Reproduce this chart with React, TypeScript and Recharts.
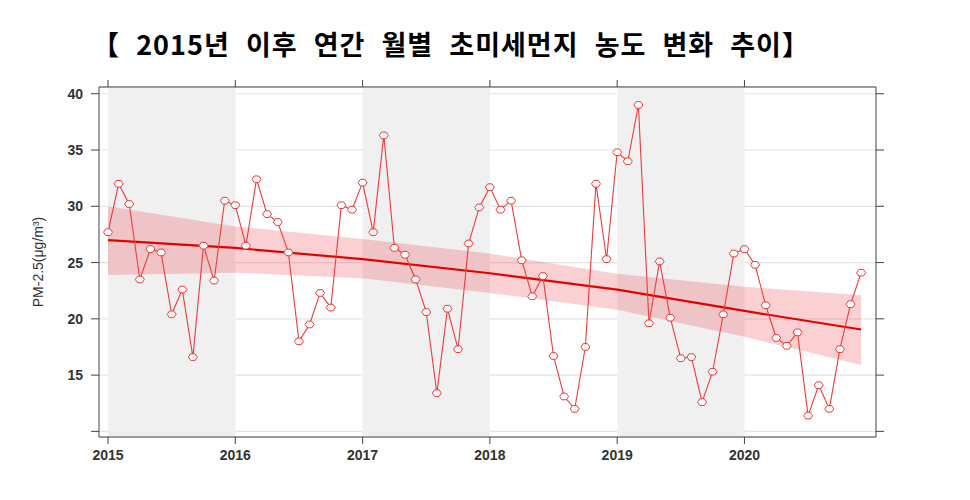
import { ComposedChart, Line, Area, XAxis, YAxis, CartesianGrid, ReferenceArea } from "recharts";

// monthly PM-2.5 means, Jan 2015 .. Dec 2020
const pm2015 = [27.7, 32.0, 30.2, 23.5, 26.2, 25.9, 20.4, 22.6, 16.6, 26.5, 23.4, 30.5];
const pm2016 = [30.1, 26.5, 32.4, 29.3, 28.6, 25.9, 18.0, 19.5, 22.3, 21.0, 30.1, 29.7];
const pm2017 = [32.1, 27.7, 36.3, 26.3, 25.7, 23.5, 20.6, 13.4, 20.9, 17.3, 26.7, 29.9];
const pm2018 = [31.7, 29.7, 30.5, 25.2, 22.0, 23.8, 16.7, 13.1, 12.0, 17.5, 32.0, 25.3];
const pm2019 = [34.8, 34.0, 39.0, 19.6, 25.1, 20.1, 16.5, 16.6, 12.6, 15.3, 20.4, 25.8];
const pm2020 = [26.2, 24.8, 21.2, 18.3, 17.6, 18.8, 11.4, 14.1, 12.0, 17.3, 21.3, 24.1];
const monthly = [...pm2015, ...pm2016, ...pm2017, ...pm2018, ...pm2019, ...pm2020];

// smooth trend with its uncertainty band, read at yearly knots (month index)
const trendMonths = [0, 12, 24, 36, 48, 60, 71];
const trendMid = [27.0, 26.3, 25.3, 24.05, 22.6, 20.7, 19.05];
const trendLow = [23.9, 24.1, 23.6, 22.3, 20.8, 18.4, 15.9];
const trendHigh = [30.0, 28.2, 27.1, 25.8, 24.0, 22.85, 22.1];

const yearTicks = [0, 12, 24, 36, 48, 60];
const yTicks = [10, 15, 20, 25, 30, 35, 40];
const shadedYears = [0, 24, 48];

const data = monthly.map((v, i) => {
  const k = trendMonths.indexOf(i);
  return {
    m: i,
    pm: v,
    mid: k >= 0 ? trendMid[k] : null,
    band: k >= 0 ? [trendLow[k], trendHigh[k]] : null,
  };
});

const axisColor = "#444";
const tickStyle = { fontSize: 14, fontWeight: 700, fill: "#333", fontFamily: "Liberation Sans Narrow, Arial Narrow, Liberation Sans, Arial" };

function Marker(props: any) {
  const { cx, cy } = props;
  if (cx == null || cy == null) return null;
  const pts = [[-4.5, 0], [-2.2, -3.3], [2.2, -3.3], [4.5, 0], [2.2, 3.3], [-2.2, 3.3]]
    .map(([x, y]) => `${cx + x},${cy + y}`)
    .join(" ");
  return <polygon points={pts} fill="#fff" stroke="#f03a3a" strokeWidth={1} />;
}

export default function App() {
  return (
    <div style={{ position: "absolute", left: 0, top: 0, width: 970, height: 500, background: "#fff" }}>
      <div
        style={{
          position: "absolute",
          left: 0,
          top: 26,
          width: 902,
          textAlign: "center",
          fontFamily: "Noto Sans CJK KR, sans-serif",
          fontWeight: 700,
          fontSize: 27,
          letterSpacing: 1,
          wordSpacing: 9,
          lineHeight: "36px",
          color: "#000",
        }}
      >
        【 2015년 이후 연간 월별 초미세먼지 농도 변화 추이】
      </div>
      <ComposedChart width={970} height={500} data={data} margin={{ top: 79, right: 86, bottom: 33, left: 29 }}>
        {shadedYears.map((s) => (
          <ReferenceArea key={s} x1={s} x2={s + 12} fill="#f0f0f0" fillOpacity={1} stroke="none" ifOverflow="hidden" />
        ))}
        <CartesianGrid vertical={false} stroke="#e4e4e4" strokeWidth={1.2} />
        <XAxis
          dataKey="m"
          type="number"
          domain={[-0.85, 72.4]}
          ticks={yearTicks}
          tickFormatter={(v: number) => String(2015 + v / 12)}
          allowDataOverflow
          stroke={axisColor}
          tickSize={7}
          tickMargin={6}
          tick={tickStyle}
          height={30}
        />
        <XAxis
          xAxisId="top"
          orientation="top"
          dataKey="m"
          type="number"
          domain={[-0.85, 72.4]}
          ticks={yearTicks}
          tickFormatter={() => ""}
          allowDataOverflow
          stroke={axisColor}
          tickSize={7}
          height={8}
        />
        <YAxis
          domain={[9.5, 40.6]}
          ticks={yTicks}
          tickFormatter={(v: number) => (v === 10 ? "" : String(v))}
          allowDataOverflow
          stroke={axisColor}
          tickSize={8}
          tickMargin={8}
          tick={{ ...tickStyle, fontFamily: "Liberation Sans, Arial" }}
          width={70}
          label={{
            value: "PM-2.5(μg/m³)",
            angle: -90,
            position: "insideLeft",
            offset: 9,
            style: { textAnchor: "middle", fontSize: 14, fill: "#333", fontFamily: "Liberation Sans, Arial" },
          }}
        />
        <YAxis
          yAxisId="right"
          orientation="right"
          domain={[9.5, 40.6]}
          ticks={yTicks}
          tickFormatter={() => ""}
          allowDataOverflow
          stroke={axisColor}
          tickSize={8}
          width={8}
        />
        <Area
          dataKey="band"
          type="linear"
          connectNulls
          fill="#ee3b48"
          fillOpacity={0.24}
          stroke="none"
          isAnimationActive={false}
          dot={false}
          activeDot={false}
        />
        <Line
          dataKey="mid"
          type="linear"
          connectNulls
          stroke="#e50000"
          strokeWidth={2.2}
          dot={false}
          isAnimationActive={false}
        />
        <Line
          dataKey="pm"
          type="linear"
          stroke="#f03a3a"
          strokeWidth={1.1}
          dot={<Marker />}
          isAnimationActive={false}
        />
      </ComposedChart>
    </div>
  );
}
